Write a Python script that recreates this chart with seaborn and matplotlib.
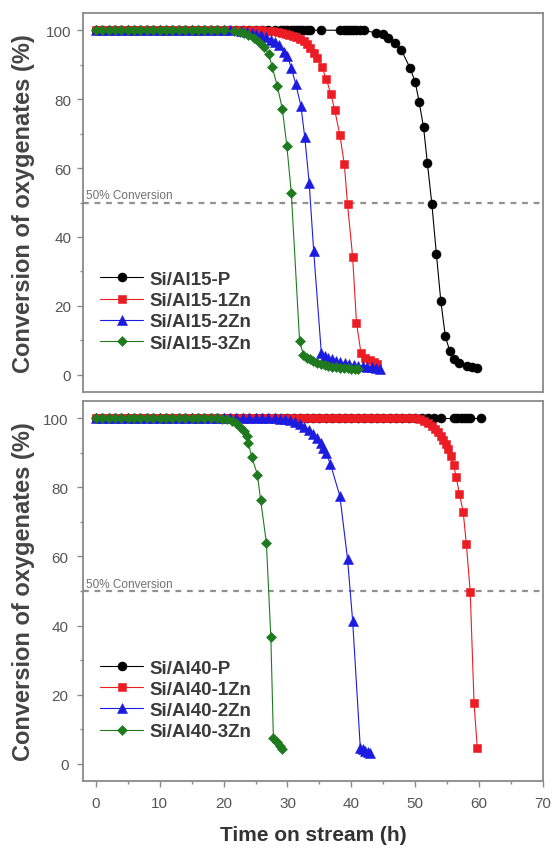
import seaborn as sns
import matplotlib.pyplot as plt
from matplotlib.ticker import MultipleLocator

# ---- Si/Al = 15 (upper panel) ----
t15_p = [0, 1, 2, 3, 4, 5, 6, 7, 8, 9, 10, 11, 12, 13, 14, 15, 16, 17, 18, 19, 20,
         21, 22, 23, 24, 25, 26, 27, 28, 29, 29.5, 30, 30.5, 31, 31.5, 32, 32.5, 33,
         33.5, 35.3, 38.3, 38.8, 39.3, 39.8, 40.3, 40.8, 41.3, 41.9,
         43.9, 45.0, 45.8, 46.8, 47.8, 49.2, 50.0, 50.6, 51.3, 51.9,
         52.6, 53.3, 54.0, 54.7, 55.4, 56.1, 56.9, 58.1, 58.9, 59.7]
c15_p = [100, 100, 100, 100, 100, 100, 100, 100, 100, 100, 100, 100,
         100, 100, 100, 100, 100, 100, 100, 100, 100, 100, 100, 100,
         100, 100, 100, 100, 100, 100, 100, 100, 100, 100, 100, 100,
         100, 100, 100, 100, 100, 100, 100, 100, 100, 100, 100, 100,
         99.2, 98.8, 97.7, 96.2, 94.3, 89.0, 84.9, 79.3, 71.8, 61.4,
         49.5, 35.2, 21.4, 11.2, 6.9, 4.7, 3.4, 2.5, 2.2, 1.9]

t15_1zn = [0, 1, 2, 3, 4, 5, 6, 7, 8, 9, 10, 11, 12, 13, 14, 15, 16, 17, 18, 19, 20,
           21, 22, 23, 24, 25,
           25.8, 26.9, 27.7, 28.5, 29.2, 29.8, 30.3, 30.8, 31.4, 32.0, 32.6, 33.1, 33.6, 34.1,
           34.7, 35.4, 36.1, 36.8, 37.4, 38.2, 38.9, 39.4, 40.2, 40.8, 41.5, 42.2, 42.9,
           43.5, 44.0]
c15_1zn = [100, 100, 100, 100, 100, 100, 100, 100, 100, 100, 100, 100, 100,
           100, 100, 100, 100, 100, 100, 100, 100, 100, 100, 100, 100, 100,
           100, 99.9, 99.7, 99.5, 99.3, 99.0, 98.7, 98.4, 98.0, 97.4, 96.8, 96.0, 94.8, 93.4,
           91.9, 89.2, 85.8, 81.4, 76.8, 69.6, 61.1, 49.5, 34.2, 15.1, 6.4, 5.0, 4.2,
           3.6, 3.0]

t15_2zn = [0, 1, 2, 3, 4, 5, 6, 7, 8, 9, 10, 11, 12, 13, 14, 15, 16, 17, 18, 19, 20, 21,
           22.8, 23.6, 24.4, 25.1, 25.8, 26.6, 27.5, 28.0, 28.6, 29.4, 30.0, 30.6,
           31.3, 32.1, 32.7, 33.4, 34.1, 35.3, 35.8, 36.4, 37.0, 37.6, 38.3, 39.0,
           39.7, 40.4, 41.1, 41.8, 42.5, 43.2, 43.9, 44.5]
c15_2zn = [100, 100, 100, 100, 100, 100, 100, 100, 100, 100, 100,
           100, 100, 100, 100, 100, 100, 100, 100, 100, 100, 100,
           99.8, 99.6, 99.3, 98.9, 98.6, 98.0, 97.2, 96.5, 95.7, 93.8, 92.5, 89.0,
           84.4, 78.1, 69.1, 55.7, 36.0, 6.3, 5.5, 5.0, 4.5, 4.0, 3.6, 3.3,
           3.0, 2.8, 2.6, 2.5, 2.4, 2.3, 2.1, 1.8]

t15_3zn = [0, 1, 2, 3, 4, 5, 6, 7, 8, 9, 10, 11, 12, 13, 14, 15, 16, 17, 18, 19, 20,
           21.6, 22.5, 23.2, 23.9, 24.8, 25.6, 26.4, 27.1, 27.6, 28.4, 29.2, 29.9,
           30.6, 31.9, 32.5, 33.0, 33.5, 34.0, 34.6, 35.2, 35.8, 36.4, 37.0, 37.6,
           38.2, 38.8, 39.4, 40.0, 40.6, 41.1]
c15_3zn = [100, 100, 100, 100, 100, 100, 100, 100, 100, 100, 100,
           100, 100, 100, 100, 100, 100, 100, 100, 100, 100,
           99.8, 99.6, 99.2, 98.6, 97.8, 96.7, 95.0, 93.0, 89.4, 83.9, 77.1, 66.5,
           52.8, 9.7, 5.8, 5.0, 4.5, 4.0, 3.5, 3.1, 2.8, 2.6, 2.4, 2.2,
           2.1, 2.0, 1.9, 1.8, 1.7, 1.7]

# ---- Si/Al = 40 (lower panel) ----
t40_p = [0, 1, 2, 3, 4, 5, 6, 7, 8, 9, 10, 11, 12, 13, 14, 15, 16, 17, 18, 19, 20,
         21, 22, 23, 24, 25, 26, 27, 28, 29, 30, 31, 32, 33, 34, 35, 36, 37, 38, 39, 40,
         41, 42, 43, 44, 45, 46, 47, 48, 49, 50, 51, 52, 53, 54,
         56.1, 56.6, 57.1, 57.6, 58.1, 58.6, 60.3]
c40_p = [100, 100, 100, 100, 100, 100, 100, 100, 100, 100, 100, 100,
         100, 100, 100, 100, 100, 100, 100, 100, 100, 100, 100, 100,
         100, 100, 100, 100, 100, 100, 100, 100, 100, 100, 100, 100,
         100, 100, 100, 100, 100, 100, 100, 100, 100, 100, 100, 100,
         100, 100, 100, 100, 100, 100, 100, 100, 100, 100, 100, 100,
         100, 100]

t40_1zn = [0, 1, 2, 3, 4, 5, 6, 7, 8, 9, 10, 11, 12, 13, 14, 15, 16, 17, 18, 19, 20,
           21, 22, 23, 24, 25, 26, 27, 28, 29, 30, 31, 32, 33, 34, 35, 36, 37, 38, 39, 40,
           41, 42, 43, 44, 45, 46, 47, 48, 49, 50,
           50.7, 51.4, 52.0, 52.6, 53.1, 53.6, 54.0, 54.4, 54.8, 55.2,
           55.6, 56.0, 56.4, 56.9, 57.5, 58.0, 58.6, 59.2, 59.7]
c40_1zn = [100, 100, 100, 100, 100, 100, 100, 100, 100, 100, 100, 100,
           100, 100, 100, 100, 100, 100, 100, 100, 100, 100, 100, 100,
           100, 100, 100, 100, 100, 100, 100, 100, 100, 100, 100, 100,
           100, 100, 100, 100, 100, 100, 100, 100, 100, 100, 100, 100,
           100, 100, 100,
           99.7, 99.2, 98.6, 97.8, 97.0, 96.0, 95.0, 93.8, 92.5, 91.0,
           89.0, 86.5, 83.0, 78.2, 72.9, 63.5, 49.7, 17.5, 4.6]

t40_2zn = [0, 1, 2, 3, 4, 5, 6, 7, 8, 9, 10, 11, 12, 13, 14, 15, 16, 17, 18, 19, 20,
           21, 22, 23, 24, 25, 26, 27, 28,
           28.8, 29.6, 30.4, 31.2, 31.9, 32.6, 33.3, 34.0, 34.7, 35.2,
           35.6, 36.0, 36.7, 38.2, 39.4, 40.2, 41.4, 41.8, 42.2, 42.6, 42.9]
c40_2zn = [100, 100, 100, 100, 100, 100, 100, 100, 100, 100, 100, 100,
           100, 100, 100, 100, 100, 100, 100, 100, 100, 100, 100, 100,
           100, 100, 100, 100, 100,
           99.9, 99.7, 99.4, 99.0, 98.4, 97.6, 96.6, 95.3, 94.2, 92.8,
           91.5, 90.0, 86.9, 77.5, 59.3, 41.4, 4.6, 4.2, 3.7, 3.3, 3.0]

t40_3zn = [0, 1, 2, 3, 4, 5, 6, 7, 8, 9, 10, 11, 12, 13, 14, 15, 16, 17, 18, 19,
           19.8, 20.6, 21.3, 22.0, 22.6, 23.2, 23.6, 23.9, 24.4, 25.3, 25.8, 26.7,
           27.4, 27.8, 28.3, 28.8, 29.2]
c40_3zn = [100, 100, 100, 100, 100, 100, 100, 100, 100, 100,
           100, 100, 100, 100, 100, 100, 100, 100, 100, 100,
           99.9, 99.7, 99.3, 98.6, 97.6, 96.3, 95.0, 92.7, 88.9, 83.7, 76.3, 64.0,
           36.6, 7.5, 6.2, 5.0, 4.2]

colors = ['black', '#ec1c24', '#1c1ce0', '#1f7a1f']
markers = ['o', 's', '^', 'D']
msizes = [6.5, 6, 7, 5.5]
suffixes = ['P', '1Zn', '2Zn', '3Zn']

panels = [
    ('Si/Al15', [(t15_p, c15_p), (t15_1zn, c15_1zn), (t15_2zn, c15_2zn), (t15_3zn, c15_3zn)]),
    ('Si/Al40', [(t40_p, c40_p), (t40_1zn, c40_1zn), (t40_2zn, c40_2zn), (t40_3zn, c40_3zn)]),
]

sns.set_theme(style='ticks')
plt.rcParams['font.family'] = ['Liberation Sans', 'DejaVu Sans']

fig = plt.figure(figsize=(5.55, 8.54), dpi=100)
ax_top = fig.add_axes([0.1495, 0.5398, 0.829, 0.4438])
ax_bot = fig.add_axes([0.1495, 0.0843, 0.829, 0.4450])

grey = '#8a8a8a'
for ax, (name, series) in zip([ax_top, ax_bot], panels):
    for (t, c), col, mk, ms, suf in zip(series, colors, markers, msizes, suffixes):
        sns.lineplot(x=t, y=c, ax=ax, color=col, lw=0.8, marker=mk, markersize=ms,
                     markeredgecolor=col, markeredgewidth=0.4, sort=False,
                     estimator=None, label=f'{name}-{suf}')
    ax.axhline(50, color='#909090', lw=1.6, dashes=(2.6, 2.6), zorder=0)
    ax.text(-1.6, 51.3, '50% Conversion', fontsize=8.5, color='#707070')
    ax.set_xlim(-2, 70)
    ax.set_ylim(-5, 105)
    ax.xaxis.set_major_locator(MultipleLocator(10))
    ax.xaxis.set_minor_locator(MultipleLocator(5))
    ax.yaxis.set_major_locator(MultipleLocator(20))
    ax.yaxis.set_minor_locator(MultipleLocator(10))
    ax.tick_params(which='major', direction='out', length=4.5, width=1, color=grey,
                   labelcolor='#555555', labelsize=11, pad=4)
    ax.tick_params(which='minor', direction='out', length=2.5, width=1, color=grey)
    for sp in ax.spines.values():
        sp.set_color(grey)
        sp.set_linewidth(1.3)
    ax.set_ylabel('Conversion of oxygenates (%)', fontsize=17, fontweight='bold',
                  color='#444444')
    ax.yaxis.set_label_coords(-0.104, 0.5)
    leg = ax.legend(loc='upper left', bbox_to_anchor=(0.037, 0.32), frameon=False,
                    prop={'size': 13.5, 'weight': 'bold'}, handlelength=2.3,
                    handletextpad=0.35, labelspacing=0.22, borderpad=0, borderaxespad=0)
    for txt in leg.get_texts():
        txt.set_color('#3a3a3a')

ax_top.tick_params(which='both', bottom=False, labelbottom=False)
ax_top.set_xlabel('')
ax_bot.tick_params(which='major', pad=6)
ax_bot.set_xlabel('Time on stream (h)', fontsize=15, fontweight='bold', color='#333333')
ax_bot.xaxis.set_label_coords(0.5, -0.116)

fig.savefig('out.png', dpi=100)
